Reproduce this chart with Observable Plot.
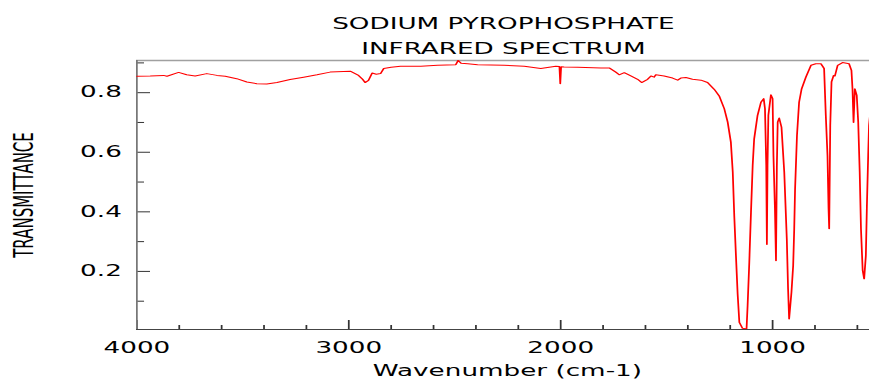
<!DOCTYPE html>
<html><head><meta charset="utf-8">
<script src="https://cdn.jsdelivr.net/npm/d3@7"></script>
<script src="https://cdn.jsdelivr.net/npm/@observablehq/plot@0.6"></script>
<style>body{margin:0;background:#fff;} #chart svg{display:block;}</style>
</head><body><div id="chart"></div>
<script>
const wavenumber = [4000,3937,3874,3858,3803,3765,3725,3670,3622,3583,3529,3481,3434,3387,3339,3277,3213,3150,3088,2993,2954,2935,2923,2907,2890,2870,2850,2835,2800,2756,2660,2581,2495,2484,2470,2439,2392,2267,2172,2094,2023,2006,2002,1998,1984,1920,1810,1771,1740,1724,1700,1669,1637,1618,1590,1574,1559,1551,1512,1472,1448,1433,1409,1378,1338,1307,1275,1252,1228,1212,1197,1188,1181,1173,1165,1157,1142,1123,1118,1110,1102,1094,1087,1071,1055,1042,1036,1030,1027,1024,1020,1008,1000,996,989,984,980,976,969,958,945,933,927,922,911,903,898,894,885,875,863,843,819,796,772,757,749,741,736,733,728,722,712,706,693,670,639,628,623,618,612,603,596,589,583,575,568,560,555,549,545,541];
const transmittance = [0.855,0.856,0.858,0.855,0.868,0.860,0.856,0.864,0.858,0.855,0.847,0.836,0.830,0.829,0.834,0.844,0.852,0.860,0.869,0.872,0.858,0.845,0.834,0.841,0.866,0.862,0.864,0.881,0.885,0.889,0.889,0.892,0.894,0.908,0.899,0.897,0.894,0.892,0.889,0.881,0.889,0.888,0.830,0.887,0.886,0.885,0.883,0.883,0.869,0.860,0.867,0.856,0.845,0.834,0.845,0.856,0.852,0.860,0.856,0.849,0.842,0.849,0.851,0.845,0.842,0.834,0.811,0.789,0.746,0.701,0.634,0.533,0.388,0.253,0.124,0.029,0.009,0.007,0.085,0.231,0.399,0.556,0.645,0.724,0.768,0.780,0.746,0.556,0.290,0.556,0.724,0.793,0.780,0.589,0.410,0.236,0.550,0.701,0.715,0.684,0.533,0.309,0.141,0.040,0.130,0.219,0.343,0.477,0.656,0.768,0.813,0.852,0.892,0.897,0.897,0.881,0.724,0.589,0.410,0.343,0.690,0.836,0.858,0.856,0.892,0.901,0.897,0.875,0.813,0.700,0.813,0.791,0.701,0.533,0.343,0.203,0.175,0.253,0.421,0.589,0.690,0.720];
const yMajorTicks = [0.2, 0.4, 0.6, 0.8];
const yMinorTicks = [0.1, 0.3, 0.5, 0.7, 0.9];
const xMajorTicks = [4000, 3000, 2000, 1000];
const xMinorTicks = [3800,3600,3400,3200,2800,2600,2400,2200,1800,1600,1400,1200,800,600];
const titleLines = ["SODIUM PYROPHOSPHATE", "INFRARED SPECTRUM"];
const xLabel = "Wavenumber (cm-1)";
const yLabel = "TRANSMITTANCE";

const data = wavenumber.map((w, i) => ({w, t: transmittance[i]}));
const W = 869, H = 379, K = 1.75;
const W0 = W / K;
const mL = 136 / K, mT = 60, mB = 50;
const frameW = W0 - mL, frameH = H - mT - mB;

const plot = Plot.plot({
  width: W0, height: H,
  marginLeft: mL, marginRight: 0, marginTop: mT, marginBottom: mB,
  style: {fontFamily: "DejaVu Sans, sans-serif", background: "white", color: "black"},
  x: {domain: [4000, 541]},
  y: {domain: [0.005, 0.908]},
  marks: [
    Plot.axisX(xMajorTicks, {anchor: "bottom", tickSize: 0, tickPadding: 13, fontSize: 15, label: null, tickFormat: d => String(d), fill: "black"}),
    Plot.axisY(yMajorTicks, {anchor: "left", tickSize: 0, tickPadding: 8.6, fontSize: 15, label: null, tickFormat: d3.format(".1f"), fill: "black"}),
    Plot.tickX(xMajorTicks, {x: d => d, insetTop: frameH - 9, stroke: "#333"}),
    Plot.tickX(xMinorTicks, {x: d => d, insetTop: frameH - 4, stroke: "#333"}),
    Plot.tickY(yMajorTicks, {y: d => d, insetRight: frameW - 8, stroke: "#333"}),
    Plot.tickY(yMinorTicks, {y: d => d, insetRight: frameW - 4.6, stroke: "#333"}),
    Plot.ruleY([0.908], {stroke: "#a0a0a0", strokeWidth: 1.5}),
    Plot.ruleY([0.005], {stroke: "#444"}),
    Plot.ruleX([4000], {stroke: "#777"}),
    Plot.line(data, {x: "w", y: "t", stroke: "red", strokeWidth: 1, clip: true}),
    Plot.text([titleLines[0]], {frameAnchor: "top", dy: -36.8, fontSize: 15, lineAnchor: "middle", fill: "black"}),
    Plot.text([titleLines[1]], {frameAnchor: "top", dy: -11.8, fontSize: 15, lineAnchor: "middle", fill: "black"}),
    Plot.text([xLabel], {frameAnchor: "bottom", dy: 35.35, dx: 2.3, fontSize: 15, lineAnchor: "top", fill: "black"}),
    Plot.text([yLabel], {frameAnchor: "left", dx: -63.9, rotate: -90, fontSize: 15, textAnchor: "middle", lineAnchor: "middle", fill: "black"})
  ]
});
plot.setAttribute("width", W);
plot.setAttribute("height", H);
plot.setAttribute("preserveAspectRatio", "none");
plot.style.width = W + "px";
plot.style.height = H + "px";
plot.style.maxWidth = "none";
document.getElementById("chart").appendChild(plot);
</script>
</body></html>
